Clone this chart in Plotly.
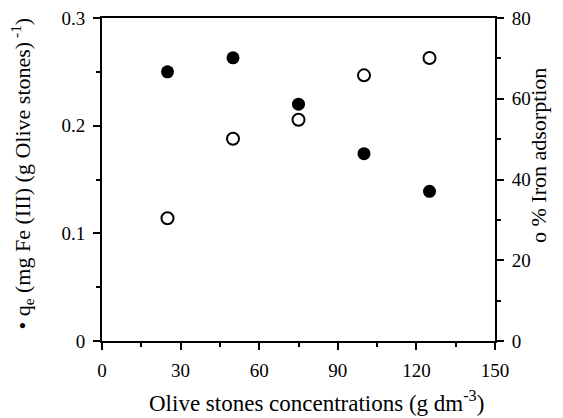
import plotly.graph_objects as go

conc = [25, 50, 75, 100, 125]
qe = [0.250, 0.263, 0.220, 0.174, 0.139]
adsorption = [30.4, 50.1, 54.8, 65.8, 70.1]

FONT = "Liberation Serif"
tick_font = dict(family=FONT, size=19, color="black")

fig = go.Figure()
fig.add_trace(go.Scatter(x=conc, y=qe, mode="markers",
                         marker=dict(symbol="circle", size=13, color="black",
                                     line=dict(width=0)),
                         showlegend=False, cliponaxis=False))
fig.add_trace(go.Scatter(x=conc, y=adsorption, mode="markers", yaxis="y2",
                         marker=dict(symbol="circle-open", size=12, color="black",
                                     line=dict(width=2, color="black")),
                         showlegend=False, cliponaxis=False))

fig.update_layout(
    template="none",
    width=563, height=418,
    margin=dict(l=102, r=68, t=18, b=77),
    paper_bgcolor="white", plot_bgcolor="white",
    font=dict(family=FONT, size=19, color="black"),
    xaxis=dict(range=[0, 150], tickvals=[0, 30, 60, 90, 120, 150],
               ticktext=["0", "30", "60", "90", "120", "150"],
               minor=dict(tickvals=[15, 45, 75, 105, 135], ticks="outside",
                          ticklen=4, tickcolor="black", tickwidth=1.5),
               mirror=True),
    yaxis=dict(range=[0, 0.3], tickvals=[0, 0.1, 0.2, 0.3],
               ticktext=["0", "0.1", "0.2", "0.3"],
               minor=dict(tickvals=[0.05, 0.15, 0.25], ticks="outside",
                          ticklen=4, tickcolor="black", tickwidth=1.5)),
    yaxis2=dict(range=[0, 80], tickvals=[0, 20, 40, 60, 80],
                ticktext=["0", "20", "40", "60", "80"], overlaying="y",
                side="right",
                minor=dict(tickvals=[10, 30, 50, 70], ticks="outside",
                           ticklen=4, tickcolor="black", tickwidth=1.5)),
    annotations=[
        dict(text="Olive stones concentrations (g dm<sup>-3</sup>)",
             x=0.5, xshift=18, y=0, yshift=-60,
             xref="paper", yref="paper", showarrow=False, yanchor="middle",
             font=dict(family=FONT, size=23, color="black")),
        dict(text="• q<sub>e</sub> (mg Fe (III) (g Olive stones)<sup> -1</sup>)",
             x=0, xshift=-80, xanchor="center", y=0.5, yshift=6,
             xref="paper", yref="paper",
             showarrow=False, textangle=-90,
             font=dict(family=FONT, size=22, color="black")),
        dict(text="o % Iron adsorption", x=1.0, xshift=58, y=0.5, yshift=24,
             xref="paper", yref="paper", showarrow=False, textangle=-90,
             font=dict(family=FONT, size=22, color="black")),
    ],
)

common = dict(showgrid=False, zeroline=False, showline=True, linecolor="black",
              linewidth=2, ticks="outside", ticklen=7, tickwidth=1.5,
              tickcolor="black", ticklabelstandoff=4, tickfont=tick_font)
fig.update_xaxes(**common)
fig.update_yaxes(**common)

fig.write_html("out.html")
